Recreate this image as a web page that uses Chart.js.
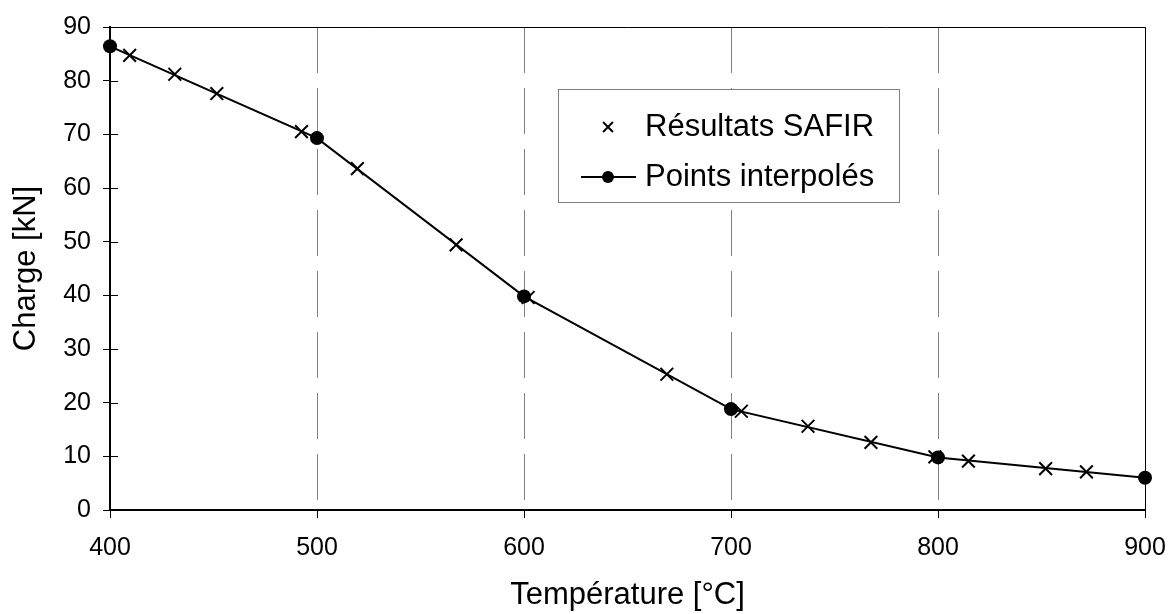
<!DOCTYPE html>
<html>
<head>
<meta charset="utf-8">
<script src="https://cdn.jsdelivr.net/npm/chart.js@4.4.1/dist/chart.umd.min.js"></script>
<style>
  html, body { margin: 0; padding: 0; background: #fff; }
  #wrap { width: 1176px; height: 614px; position: relative; }
</style>
</head>
<body>
<div id="wrap"><canvas id="chart"></canvas></div>
<script>
// SAFIR results: temperature [°C] / load [kN]
const safirTemp = [409.5, 431.3, 451.6, 492.5, 519.5, 567.2, 602, 669, 705, 737.2, 767.6, 798.5, 814.7, 852, 871.7];
const safirLoad = [84.7, 81.2, 77.6, 70.5, 63.6, 49.4, 39.6, 25.3, 18.4, 15.6, 12.6, 9.9, 9.1, 7.7, 7.1];

// interpolated points every 100 °C
const interpTemp = [400, 500, 600, 700, 800, 900];
const interpLoad = [86.4, 69.3, 39.8, 18.8, 9.8, 6.0];

const xTicks = [400, 500, 600, 700, 800, 900];
const yTicks = [0, 10, 20, 30, 40, 50, 60, 70, 80, 90];
const seriesNames = ['Résultats SAFIR', 'Points interpolés'];

const FONT = "'Liberation Sans', Arial, sans-serif";

const toPoints = (xs, ys) => xs.map((x, i) => ({ x, y: ys[i] }));

// small ticks on the inside of the y axis + top/right frame
const frame = {
  id: 'frame',
  beforeDatasetsDraw(chart) {
    const { ctx, chartArea: a, scales } = chart;
    ctx.save();
    ctx.strokeStyle = '#000';
    ctx.lineWidth = 1;
    ctx.beginPath();
    ctx.moveTo(a.left, a.top + 0.5);
    ctx.lineTo(a.right + 0.5, a.top + 0.5);
    ctx.lineTo(a.right + 0.5, a.bottom);
    ctx.stroke();
    ctx.beginPath();
    yTicks.forEach(v => {
      const y = Math.round(scales.y.getPixelForValue(v)) + 0.5;
      ctx.moveTo(a.left, y);
      ctx.lineTo(a.left + 8, y);
    });
    ctx.stroke();
    ctx.restore();
  }
};

// boxed legend inside the plot
const boxLegend = {
  id: 'boxLegend',
  afterDraw(chart) {
    const { ctx } = chart;
    const box = { left: 558, top: 89, width: 341, height: 113 };
    const rows = [box.top + 38, box.top + 88];
    ctx.save();
    ctx.fillStyle = '#fff';
    ctx.fillRect(box.left, box.top, box.width, box.height);
    ctx.strokeStyle = '#7f7f7f';
    ctx.lineWidth = 1;
    ctx.strokeRect(box.left + 0.5, box.top + 0.5, box.width, box.height);

    ctx.strokeStyle = '#000';
    ctx.fillStyle = '#000';
    ctx.lineWidth = 2;
    Chart.helpers.drawPoint(ctx, { pointStyle: 'crossRot', radius: 7, borderWidth: 2 }, 608, rows[0]);

    ctx.beginPath();
    ctx.moveTo(581, rows[1]);
    ctx.lineTo(636, rows[1]);
    ctx.stroke();
    ctx.beginPath();
    ctx.arc(608, rows[1], 6, 0, Math.PI * 2);
    ctx.fill();

    ctx.font = `31px ${FONT}`;
    ctx.textBaseline = 'middle';
    ctx.textAlign = 'left';
    ctx.fillText(seriesNames[0], 645, rows[0]);
    ctx.fillText(seriesNames[1], 645, rows[1]);
    ctx.restore();
  }
};

new Chart(document.getElementById('chart'), {
  type: 'scatter',
  data: {
    datasets: [
      {
        label: seriesNames[0],
        data: toPoints(safirTemp, safirLoad),
        showLine: false,
        pointStyle: 'crossRot',
        pointRadius: 9,
        borderColor: '#000',
        backgroundColor: '#000',
        borderWidth: 2,
        clip: false
      },
      {
        label: seriesNames[1],
        data: toPoints(interpTemp, interpLoad),
        showLine: true,
        borderColor: '#000',
        borderWidth: 2,
        pointStyle: 'circle',
        pointRadius: 7,
        pointBackgroundColor: '#000',
        pointBorderWidth: 0,
        tension: 0,
        clip: false
      }
    ]
  },
  options: {
    responsive: true,
    maintainAspectRatio: false,
    animation: false,
    events: [],
    layout: { padding: { top: 24, right: 31, left: 0, bottom: 0 } },
    plugins: {
      legend: { display: false },
      tooltip: { enabled: false }
    },
    scales: {
      x: {
        type: 'linear',
        min: xTicks[0],
        max: xTicks[xTicks.length - 1],
        afterBuildTicks: s => { s.ticks = xTicks.map(value => ({ value })); },
        afterFit: s => {
          s.height = 104;
          s.paddingLeft = 0;
          s.paddingRight = 0;
        },
        ticks: { color: '#000', font: { family: FONT, size: 25 }, padding: 15, maxRotation: 0 },
        grid: { color: '#808080', lineWidth: 1, tickColor: '#000', tickLength: 8, drawOnChartArea: true },
        border: { color: '#000', width: 2, dash: [46, 15] },
        title: {
          display: true,
          text: 'Température [°C]',
          color: '#000',
          font: { family: FONT, size: 31 },
          padding: { top: 0, bottom: 0 }
        }
      },
      y: {
        type: 'linear',
        min: yTicks[0],
        max: yTicks[yTicks.length - 1],
        afterBuildTicks: s => { s.ticks = yTicks.map(value => ({ value })); },
        afterFit: s => { s.width = 110; },
        ticks: { color: '#000', font: { family: FONT, size: 25 }, padding: 12 },
        grid: { drawOnChartArea: false, tickColor: '#000', tickLength: 7 },
        border: { color: '#000', width: 2 },
        title: {
          display: true,
          text: 'Charge [kN]',
          color: '#000',
          font: { family: FONT, size: 31 },
          padding: { top: 8, bottom: 0 }
        }
      }
    }
  },
  plugins: [frame, boxLegend]
});
</script>
</body>
</html>
